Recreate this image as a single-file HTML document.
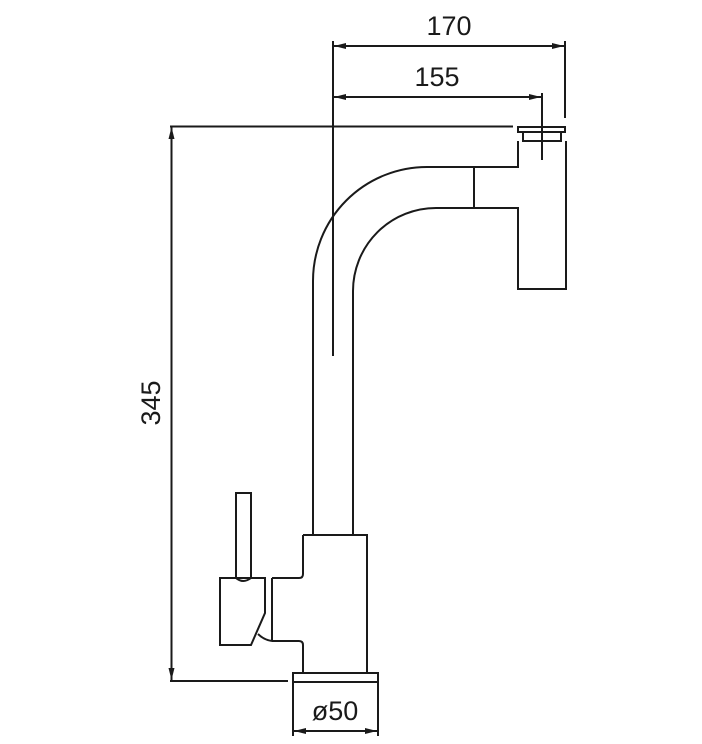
<!DOCTYPE html>
<html><head><style>
html,body{margin:0;padding:0;background:#fff;}
svg{display:block;}
text{font-family:"Liberation Sans",Arial,sans-serif;fill:#1a1a1a;}
</style></head><body>
<svg width="702" height="744" viewBox="0 0 702 744" xmlns="http://www.w3.org/2000/svg">
<defs>
<marker id="a" viewBox="0 0 12 6" refX="12" refY="3" markerWidth="12" markerHeight="6" orient="auto-start-reverse" markerUnits="userSpaceOnUse">
<path d="M0,0 L12,3 L0,6 z" fill="#1a1a1a"/>
</marker>
</defs>
<g stroke="#1a1a1a" stroke-width="2" fill="none">
<!-- dimension 170 -->
<line x1="333" y1="41" x2="333" y2="356"/>
<line x1="565" y1="41" x2="565" y2="118"/>
<line x1="334" y1="46" x2="564" y2="46" marker-start="url(#a)" marker-end="url(#a)"/>
<!-- dimension 155 -->
<line x1="542" y1="93" x2="542" y2="160"/>
<line x1="334" y1="97" x2="541" y2="97" marker-start="url(#a)" marker-end="url(#a)"/>
<!-- dimension 345 -->
<line x1="170" y1="126.5" x2="513" y2="126.5"/>
<line x1="170" y1="681" x2="288" y2="681"/>
<line x1="171.5" y1="127" x2="171.5" y2="680" marker-start="url(#a)" marker-end="url(#a)"/>
<!-- dimension ø50 -->
<line x1="293" y1="683" x2="293" y2="736"/>
<line x1="378" y1="683" x2="378" y2="736"/>
<line x1="294" y1="731" x2="377" y2="731" marker-start="url(#a)" marker-end="url(#a)"/>

<!-- cap -->
<rect x="518" y="127" width="47" height="5"/>
<rect x="523" y="132" width="38" height="9"/>
<!-- spout -->
<path d="M566,141 L566,289 L518,289 L518,208 L436,208 A83,83 0 0 0 353,291 L353,535"/>
<path d="M518,141 L518,167 L427,167 A114,114 0 0 0 313,281 L313,535"/>
<line x1="474" y1="167" x2="474" y2="208"/>
<!-- body -->
<path d="M303,535 L367,535 L367,673 L303,673 L303,645 Q303,641 299,641 L272,641"/>
<path d="M303,535 L303,574 Q303,578 299,578 L272,578"/>
<rect x="293" y="673" width="85" height="9"/>
<!-- handle -->
<line x1="272" y1="578" x2="272" y2="641"/>
<path d="M258,634 Q264,640 272,641"/>
<path d="M220,578 L265,578 L265,613 L251,645 L220,645 Z"/>
<path d="M236,578 L236,493 L251,493 L251,578 Q243,584 236,578"/>
</g>
<text x="449" y="35" font-size="27" text-anchor="middle">170</text>
<text x="437" y="86" font-size="27" text-anchor="middle">155</text>
<text x="335" y="720" font-size="27" text-anchor="middle">ø50</text>
<text transform="translate(160,403) rotate(-90)" font-size="27" text-anchor="middle">345</text>
</svg>
</body></html>
